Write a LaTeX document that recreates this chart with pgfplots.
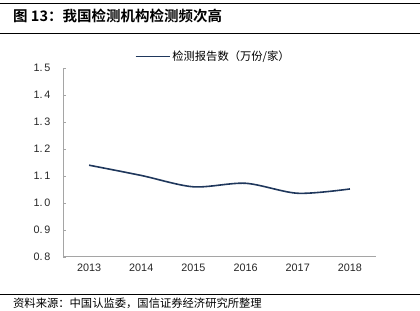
\documentclass[border=0pt]{standalone}
\usepackage{pgfplots}
\pgfplotsset{compat=1.18}
\usepackage{fontspec}
\setmainfont{Liberation Sans}
\newfontfamily\cjk{Noto Sans CJK SC}
\newfontfamily\cjkb{Noto Sans CJK SC Bold}
\definecolor{navy}{RGB}{31,55,92}
\definecolor{axgray}{RGB}{165,165,165}
\begin{document}
\begin{tikzpicture}
\useasboundingbox (0bp,0bp) rectangle (420bp,311bp);
\draw[line width=1bp,black] (0bp,307bp) -- (420bp,307bp);
\draw[line width=0.8bp,black] (0bp,278bp) -- (420bp,278bp);
\node[anchor=west,inner sep=0pt,font=\cjkb\fontsize{14.5bp}{16bp}\selectfont] at (13bp,295bp) {图 13：我国检测机构检测频次高};
\draw[line width=0.8bp,black] (0bp,16.5bp) -- (420bp,16.5bp);
\node[anchor=west,inner sep=0pt,font=\cjk\fontsize{11.3bp}{12bp}\selectfont] at (13bp,8bp) {资料来源：中国认监委，国信证券经济研究所整理};
\begin{axis}[
  at={(63bp,54bp)}, anchor=south west,
  scale only axis, width=313bp, height=189bp,
  xmin=-0.5, xmax=5.5, ymin=0.8, ymax=1.5,
  xtick={0,1,2,3,4,5},
  xticklabels={2013,2014,2015,2016,2017,2018},
  extra x ticks={0.5,1.5,2.5,3.5,4.5}, extra x tick labels={},
  extra x tick style={major tick length=3bp, tick style={axgray}},
  ytick={0.8,0.9,1.0,1.1,1.2,1.3,1.4,1.5},
  yticklabels={0.\,8,0.\,9,1.\,0,1.\,1,1.\,2,1.\,3,1.\,4,1.\,5},
  axis x line*=bottom, axis y line*=left,
  axis line style={axgray, line width=1bp, -},
  major x tick style={draw=none},
  major tick length=3bp,
  tick style={axgray, line width=0.8bp},
  tick align=inside,
  ticklabel style={font=\fontsize{10.8bp}{12bp}\selectfont, text=black!85},
  xticklabel style={yshift=-3bp},
  yticklabel style={xshift=-9bp},
  legend style={draw=none, at={(0.48,1.06)}, anchor=center, font=\cjk\fontsize{11.3bp}{12bp}\selectfont, legend columns=1},
  legend cell align=left,
  legend image code/.code={\draw[#1] (0bp,0bp) -- (34bp,0bp);},
]
\addplot[navy, line width=1.6bp, smooth, tension=0.5] coordinates {
(0,1.140) (1,1.102) (2,1.060) (3,1.073) (4,1.036) (5,1.052)
};
\addlegendentry{检测报告数（万份/家）}
\end{axis}
\end{tikzpicture}
\end{document}
